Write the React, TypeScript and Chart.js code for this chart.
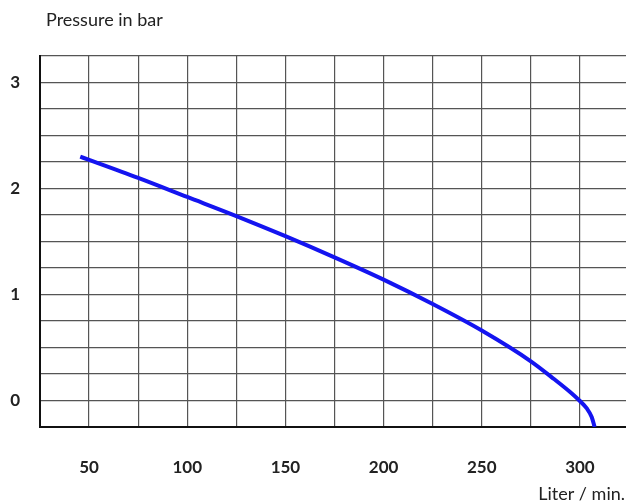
import React, { useEffect, useRef } from "react";
import { Chart, registerables } from "chart.js";

Chart.register(...registerables);

const flowLpm = [45.5, 50, 75, 100, 125, 150, 175, 200, 225, 250, 275, 287, 295, 300, 303.5, 306, 307.5];
const pressureBar = [2.3, 2.27, 2.1, 1.92, 1.74, 1.55, 1.35, 1.14, 0.91, 0.66, 0.37, 0.2, 0.08, -0.005, -0.075, -0.155, -0.25];
const xLabelValues = [50, 100, 150, 200, 250, 300];
const yLabelValues = [0, 1, 2, 3];
const yTitle = "Pressure in bar";
const xTitle = "Liter / min.";

const FONT = "Lato, 'Open Sans', sans-serif";

export default function App() {
  const ref = useRef<HTMLCanvasElement | null>(null);

  useEffect(() => {
    if (!ref.current) return;
    const textPlugin = {
      id: "axisTexts",
      afterDraw(chart: any) {
        const ctx = chart.ctx;
        ctx.save();
        ctx.fillStyle = "#222";
        ctx.font = `18px ${FONT}`;
        ctx.textBaseline = "alphabetic";
        ctx.textAlign = "left";
        ctx.fillText(yTitle, 46, 26);
        ctx.textAlign = "right";
        ctx.fillText(xTitle, 625, 500);
        ctx.restore();
      },
    };
    const chart = new Chart(ref.current, {
      type: "line",
      data: {
        datasets: [
          {
            data: flowLpm.map((x, i) => ({ x, y: pressureBar[i] })),
            borderColor: "#1414f0",
            borderWidth: 4,
            pointRadius: 0,
            fill: false,
            cubicInterpolationMode: "monotone",
          },
        ],
      },
      options: {
        animation: false,
        responsive: true,
        maintainAspectRatio: false,
        layout: { padding: { left: 0, right: 11, top: 56, bottom: 0 } },
        plugins: { legend: { display: false }, tooltip: { enabled: false }, title: { display: false } },
        scales: {
          x: {
            type: "linear",
            min: 25,
            max: 325,
            afterFit(scale: any) {
              scale.height = 75;
              scale.paddingLeft = 0;
              scale.paddingRight = 0;
            },
            ticks: {
              stepSize: 25,
              padding: 30,
              color: "#222",
              font: { family: FONT, size: 17, weight: "bold" },
              maxRotation: 0,
              autoSkip: false,
              callback: (v: any) => (xLabelValues.includes(Number(v)) ? String(v) : ""),
            },
            grid: { color: "#555", lineWidth: 1.2, drawTicks: false },
            border: { color: "#111", width: 2 },
          },
          y: {
            type: "linear",
            min: -0.25,
            max: 3.25,
            afterFit(scale: any) {
              scale.width = 40;
              scale.paddingTop = 0;
              scale.paddingBottom = 0;
            },
            ticks: {
              stepSize: 0.25,
              padding: 20,
              color: "#222",
              font: { family: FONT, size: 17, weight: "bold" },
              autoSkip: false,
              callback: (v: any) => (yLabelValues.includes(Number(v)) ? String(v) : ""),
            },
            grid: { color: "#555", lineWidth: 1.2, drawTicks: false },
            border: { color: "#111", width: 2 },
          },
        },
      },
      plugins: [textPlugin],
    });
    return () => chart.destroy();
  }, []);

  return (
    <div style={{ position: "fixed", left: 0, top: 0, width: 626, height: 502, overflow: "hidden", background: "#fff" }}>
      <div style={{ position: "absolute", left: 0, top: 0, width: 640, height: 502 }}>
        <canvas ref={ref} />
      </div>
    </div>
  );
}
